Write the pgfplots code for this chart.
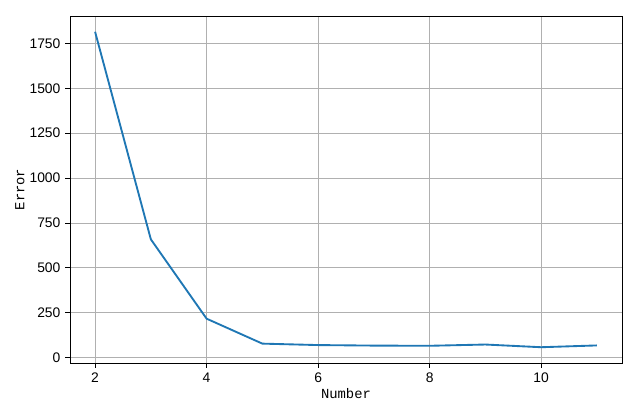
\documentclass[border=0pt]{standalone}
\usepackage{fontspec}
\setmainfont{Liberation Sans}
\newfontfamily\monof{Liberation Mono}
\usepackage{pgfplots}
\pgfplotsset{compat=1.18}
\definecolor{mplblue}{HTML}{1F77B4}
\definecolor{gridgray}{HTML}{B0B0B0}
\begin{document}
\begin{tikzpicture}
\path[use as bounding box] (-52.5pt,-34.5pt) rectangle (427.5pt,272.25pt);
\begin{axis}[
  at={(0,0)}, anchor=south west,
  scale only axis,
  width=414pt, height=260.25pt,
  xmin=1.55, xmax=11.45,
  ymin=-29.85, ymax=1902.85,
  xtick={2,4,6,8,10},
  ytick={0,250,500,750,1000,1250,1500,1750},
  xtick pos=left, ytick pos=left,
  tick align=outside,
  major tick length=3.65pt,
  every tick/.style={black, line width=0.7pt},
  axis line style={line width=0.7pt},
  grid=major,
  major grid style={gridgray, line width=0.6pt},
  /pgf/number format/assume math mode=true,
  /pgf/number format/set thousands separator={},
  tick label style={font=\fontsize{10.4}{12}\selectfont},
  xlabel={Number}, ylabel={Error},
  label style={font=\monof\fontsize{10.4}{12}\selectfont},
  xlabel style={yshift=2pt},
  ylabel style={yshift=-3pt},
]
\addplot[mplblue, line width=1.4pt, mark=none] coordinates {
(2,1815) (3,659) (4,217) (5,78) (6,70) (7,67) (8,66) (9,73) (10,58) (11,68)
};
\end{axis}
\end{tikzpicture}
\end{document}
